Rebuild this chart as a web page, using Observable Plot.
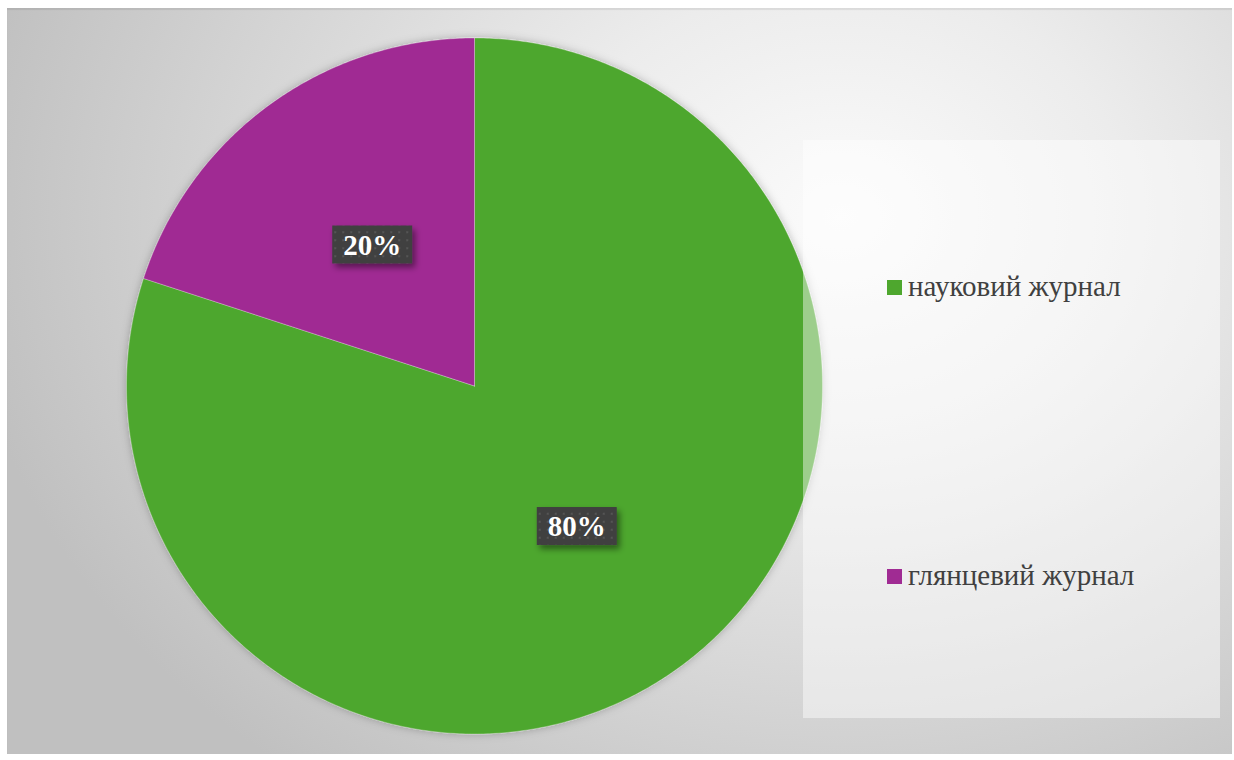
<!DOCTYPE html>
<html>
<head>
<meta charset="utf-8">
<script src="https://cdn.jsdelivr.net/npm/d3@7"></script>
<script src="https://cdn.jsdelivr.net/npm/@observablehq/plot@0.6"></script>
<style>
  html, body { margin: 0; padding: 0; background: #fff; }
  #page { position: relative; width: 1234px; height: 760px; overflow: hidden; }
  #bg { position: absolute; left: 7px; top: 8px; width: 1225px; height: 746px;
        background: radial-gradient(ellipse 72% 95% at 68% 28%, #fbfbfb 0%, #ececec 33%, #d4d4d4 70%, #c0c0c0 100%);
        box-shadow: inset 0 2px 1px rgba(0,0,0,0.08); }
  #chart { position: absolute; left: 0; top: 0; }
  #legend { position: absolute; left: 803px; top: 140px; width: 417px; height: 578px;
            background: rgba(255,255,255,0.45); }
  .item { position: absolute; left: 84px; display: flex; align-items: center;
          font-family: "Liberation Serif", "Times New Roman", "DejaVu Serif", serif; font-size: 29px; color: #404040; white-space: nowrap; }
  .sw { width: 15px; height: 15px; margin-right: 6px; margin-top: 2px; }
</style>
</head>
<body>
<div id="page">
  <div id="bg"></div>
  <div id="chart"></div>
  <div id="legend"></div>
</div>
<script>
const categories = ["науковий журнал", "глянцевий журнал"];
const values = [80, 20];
const colors = ["#4EA72E", "#A02B93"];
const legendTops = [142, 431];

const arcs = d3.pie().sort(null)(values);
const slicePts = [];
arcs.forEach((a, i) => {
  const n = Math.max(2, Math.ceil((a.endAngle - a.startAngle) / (Math.PI / 360)));
  slicePts.push({cat: categories[i], x: 0, y: 0});
  for (let k = 0; k <= n; k++) {
    const t = a.startAngle + (a.endAngle - a.startAngle) * k / n;
    slicePts.push({cat: categories[i], x: Math.sin(t), y: Math.cos(t)});
  }
  slicePts.push({cat: categories[i], x: 0, y: 0});
});
const labels = arcs.map((a, i) => {
  const m = (a.startAngle + a.endAngle) / 2;
  return {cat: categories[i], x: 0.5 * Math.sin(m), y: 0.5 * Math.cos(m), text: values[i] + "%"};
});

const chart = Plot.plot({
  width: 1234, height: 760, margin: 0,
  style: {background: "transparent"},
  x: {domain: [-1, 1], range: [126, 822], axis: null},
  y: {domain: [-1, 1], range: [733.5, 37.5], axis: null},
  color: {domain: categories, range: colors},
  marks: [
    Plot.line(slicePts, {x: "x", y: "y", z: "cat", fill: "cat", stroke: "#ffffff", strokeOpacity: 0.35, strokeWidth: 0.8, curve: "linear"}),
    Plot.text(labels, {x: "x", y: "y", text: "text", fill: "white", fontSize: 29, fontWeight: "bold",
      fontFamily: "'Liberation Serif', 'Times New Roman', 'DejaVu Serif', serif", className: "plabel"})
  ]
});
document.getElementById("chart").appendChild(chart);

// defs: pattern and filters
const svg = d3.select(chart);
const defs = svg.insert("defs", ":first-child");
const pat = defs.append("pattern").attr("id", "dots").attr("width", 8).attr("height", 8).attr("patternUnits", "userSpaceOnUse");
pat.append("rect").attr("width", 8).attr("height", 8).attr("fill", "#404040");
pat.append("rect").attr("x", 2).attr("y", 2).attr("width", 2).attr("height", 2).attr("fill", "#555555");
const sh = defs.append("filter").attr("id", "boxsh").attr("x", "-30%").attr("y", "-30%").attr("width", "160%").attr("height", "160%");
sh.append("feDropShadow").attr("dx", 3).attr("dy", 4).attr("stdDeviation", 3).attr("flood-color", "#000").attr("flood-opacity", 0.45);
const psh = defs.append("filter").attr("id", "piesh").attr("x", "-10%").attr("y", "-10%").attr("width", "120%").attr("height", "120%");
psh.append("feDropShadow").attr("dx", 0).attr("dy", 0).attr("stdDeviation", 4).attr("flood-color", "#000").attr("flood-opacity", 0.25);

svg.select('g[aria-label="line"]').attr("filter", "url(#piesh)");

// label boxes (copy each text's own transform so the box sits under it)
svg.selectAll(".plabel text").each(function() {
  const b = this.getBBox();
  const padX = 11, padY = 4;
  const tf = this.getAttribute("transform");
  const r = d3.select(this.parentNode).insert("rect", () => this)
    .attr("x", b.x - padX)
    .attr("y", b.y - padY + 1)
    .attr("width", b.width + 2 * padX).attr("height", b.height + 2 * padY - 2)
    .attr("fill", "url(#dots)").attr("filter", "url(#boxsh)");
  if (tf) r.attr("transform", tf);
});

// legend
const leg = d3.select("#legend");
categories.forEach((c, i) => {
  const it = leg.append("div").attr("class", "item").style("top", (legendTops[i] - 12) + "px");
  it.append("div").attr("class", "sw").style("background", colors[i]);
  it.append("span").text(c);
});
</script>
</body>
</html>
